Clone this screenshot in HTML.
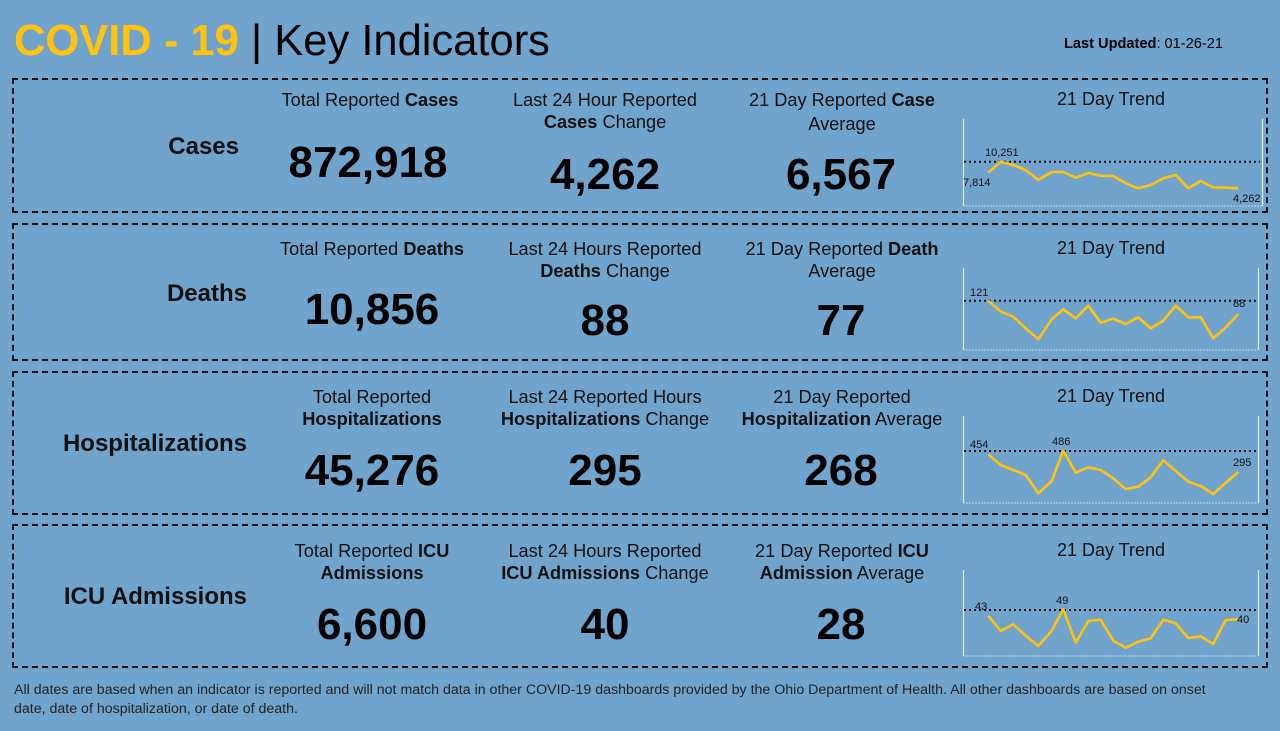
<!DOCTYPE html>
<html><head><meta charset="utf-8"><style>
*{margin:0;padding:0;box-sizing:border-box}
body{width:1280px;height:731px;background:#71a4cd;font-family:"Liberation Sans",Arial,sans-serif;color:#111;position:relative;overflow:hidden}
.abs{position:absolute}
.box{position:absolute;left:12px;width:1256px;border:2px dashed #111}
.lbl{position:absolute;left:0;width:247px;text-align:right;font-weight:bold;font-size:24px;white-space:nowrap}
.hd{position:absolute;width:260px;text-align:center;font-size:18.2px;line-height:22px;color:#111;white-space:nowrap}
.num{position:absolute;width:240px;text-align:center;font-size:44px;font-weight:bold;line-height:50px;color:#000}
.tr{position:absolute;left:1011px;width:200px;text-align:center;font-size:18px}
svg{position:absolute;left:0;top:0}
</style></head><body>
<div class="abs" style="left:14px;top:16px;font-size:43.5px;line-height:50px;white-space:nowrap"><b style="color:#fec20f">COVID - 19</b> <span style="color:#000">| Key Indicators</span></div>
<div class="abs" style="left:1064px;top:36px;font-size:14.6px;color:#000;white-space:nowrap"><b>Last Updated</b>: 01-26-21</div>

<div class="box" style="top:78px;height:135px"></div>
<div class="box" style="top:223px;height:138px"></div>
<div class="box" style="top:371px;height:144px"></div>
<div class="box" style="top:524px;height:144px"></div>

<div class="lbl" style="top:133px;width:239px">Cases</div>
<div class="lbl" style="top:280px">Deaths</div>
<div class="lbl" style="top:430px">Hospitalizations</div>
<div class="lbl" style="top:583px">ICU Admissions</div>

<div class="hd" style="left:240px;top:89px">Total Reported <b>Cases</b></div>
<div class="hd" style="left:475px;top:89px">Last 24 Hour Reported<br><b>Cases</b> Change</div>
<div class="hd" style="left:712px;top:89px">21 Day Reported <b>Case</b><br><span style="position:relative;top:2px">Average</span></div>
<div class="tr" style="top:89px">21 Day Trend</div>
<div class="num" style="left:248px;top:138px">872,918</div>
<div class="num" style="left:485px;top:150px">4,262</div>
<div class="num" style="left:721px;top:150px">6,567</div>

<div class="hd" style="left:242px;top:238px">Total Reported <b>Deaths</b></div>
<div class="hd" style="left:475px;top:238px">Last 24 Hours Reported<br><b>Deaths</b> Change</div>
<div class="hd" style="left:712px;top:238px">21 Day Reported <b>Death</b><br>Average</div>
<div class="tr" style="top:238px">21 Day Trend</div>
<div class="num" style="left:252px;top:285px">10,856</div>
<div class="num" style="left:485px;top:296px">88</div>
<div class="num" style="left:721px;top:296px">77</div>

<div class="hd" style="left:242px;top:386px">Total Reported<br><b>Hospitalizations</b></div>
<div class="hd" style="left:475px;top:386px">Last 24 Reported Hours<br><b>Hospitalizations</b> Change</div>
<div class="hd" style="left:712px;top:386px">21 Day Reported<br><b>Hospitalization</b> Average</div>
<div class="tr" style="top:386px">21 Day Trend</div>
<div class="num" style="left:252px;top:446px">45,276</div>
<div class="num" style="left:485px;top:446px">295</div>
<div class="num" style="left:721px;top:446px">268</div>

<div class="hd" style="left:242px;top:540px">Total Reported <b>ICU</b><br><b>Admissions</b></div>
<div class="hd" style="left:475px;top:540px">Last 24 Hours Reported<br><b>ICU Admissions</b> Change</div>
<div class="hd" style="left:712px;top:540px">21 Day Reported <b>ICU</b><br><b>Admission</b> Average</div>
<div class="tr" style="top:540px">21 Day Trend</div>
<div class="num" style="left:252px;top:600px">6,600</div>
<div class="num" style="left:485px;top:600px">40</div>
<div class="num" style="left:721px;top:600px">28</div>

<svg width="1280" height="731" font-family="Liberation Sans, Arial, sans-serif" font-size="11" fill="#111">
<g stroke="#e8eef5" stroke-width="1.2">
<line x1="963.5" y1="119" x2="963.5" y2="206"/><line x1="1262.5" y1="119" x2="1262.5" y2="206"/>
<line x1="963.5" y1="268" x2="963.5" y2="350"/><line x1="1258.5" y1="268" x2="1258.5" y2="350"/>
<line x1="963.5" y1="416" x2="963.5" y2="503"/><line x1="1258.5" y1="416" x2="1258.5" y2="503"/>
<line x1="963.5" y1="570" x2="963.5" y2="656"/><line x1="1258.5" y1="570" x2="1258.5" y2="656"/>
</g>
<g stroke="#d6e2ee" stroke-width="0.8" stroke-dasharray="2 1">
<line x1="963" y1="206" x2="1262" y2="206"/><line x1="963" y1="350" x2="1258" y2="350"/>
<line x1="963" y1="503" x2="1258" y2="503"/><line x1="963" y1="656" x2="1258" y2="656"/>
</g>
<g stroke="#111" stroke-width="2" stroke-dasharray="2 3">
<line x1="964" y1="161.7" x2="1260" y2="161.7"/>
<line x1="964" y1="300.7" x2="1256" y2="300.7"/>
<line x1="964" y1="451" x2="1256" y2="451"/>
<line x1="964" y1="610" x2="1256" y2="610"/>
</g>
<g fill="none" stroke="#fec20f" stroke-width="2.6" stroke-linejoin="round">
<polyline points="988.3,172.7 1000.7,161.7 1013.3,165 1025.7,170 1038.3,180 1051.7,172 1063.3,172 1075.7,177.7 1088.3,173 1100.7,175.7 1113.3,176 1125.7,183.3 1138.3,188.3 1150.7,185 1163.3,178.3 1175.7,175 1188.3,188.3 1200.7,181 1213.3,187.3 1225.7,187.7 1238.3,188.3"/>
<polyline points="988.3,300.7 1000.7,311.7 1013.3,316.7 1025.7,328.3 1038.3,339.3 1051.7,319.3 1063.3,309.3 1075.7,318.3 1088.3,305.7 1100.7,322.7 1113.3,318.7 1125.7,324 1138.3,317.3 1150.7,328.3 1163.3,320.7 1175.7,305.7 1188.3,317.3 1200.7,317.3 1213.3,338.3 1225.7,327.3 1238.3,314"/>
<polyline points="988.3,454.3 1000.7,465 1013.3,470 1025.7,475 1038.3,493.3 1051.7,481 1063.3,450.7 1075.7,472.7 1088.3,467.3 1100.7,470 1113.3,478.3 1125.7,489 1138.3,486.7 1150.7,477.3 1163.3,460.3 1175.7,471 1188.3,481.7 1200.7,486 1213.3,494 1225.7,482.7 1238.3,472"/>
<polyline points="988.3,615.7 1000.7,631 1013.3,624.3 1025.7,635.7 1038.3,646 1051.7,630.7 1063.3,609.3 1075.7,642.7 1088.3,621 1100.7,619.7 1113.3,640.7 1125.7,647.7 1138.3,641.7 1150.7,638.3 1163.3,619.7 1175.7,623.3 1188.3,638 1200.7,636.3 1213.3,644 1225.7,620 1238.3,619.3"/>
</g>
<text x="985" y="156">10,251</text><text x="963" y="186">7,814</text><text x="1233" y="202">4,262</text>
<text x="970" y="296">121</text><text x="1233" y="307">88</text>
<text x="970" y="448">454</text><text x="1052" y="445">486</text><text x="1233" y="466">295</text>
<text x="975" y="610">43</text><text x="1056" y="604">49</text><text x="1237" y="623">40</text>
</svg>

<div class="abs" style="left:14px;top:681px;width:1205px;font-size:14.2px;line-height:19px;color:#222">All dates are based when an indicator is reported and will not match data in other COVID-19 dashboards provided by the Ohio Department of Health. All other dashboards are based on onset date, date of hospitalization, or date of death.</div>
</body></html>
